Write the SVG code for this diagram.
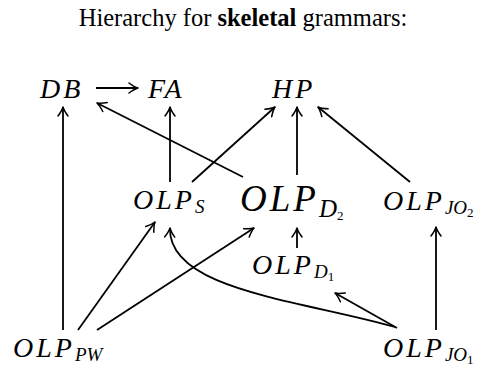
<svg xmlns="http://www.w3.org/2000/svg" width="486" height="368" viewBox="0 0 486 368">
<defs>
<style>
text{font-family:'Liberation Serif','Times New Roman',serif;fill:#000}
.m{font-style:italic;font-size:28px;letter-spacing:3px}
.big{font-size:37px;letter-spacing:3px}
.sub{font-size:19px;letter-spacing:0}
.subb{font-size:25px;letter-spacing:0}
.n{font-style:normal;font-size:13px}
.e{fill:none;stroke:#000;stroke-width:1.8}
</style>
<marker id="ah" viewBox="-11 -6 13 12" refX="0" refY="0" markerWidth="13" markerHeight="12" markerUnits="userSpaceOnUse" orient="auto">
<path d="M-9,-5 Q-3.5,-0.9 0,0 Q-3.5,0.9 -9,5" fill="none" stroke="#000" stroke-width="1.5" stroke-linecap="round" stroke-linejoin="round"/>
</marker>
</defs>
<rect width="486" height="368" fill="#fff"/>
<text font-family="Liberation Serif, serif" x="243" y="26" font-size="24.5" text-anchor="middle">Hierarchy for <tspan font-weight="bold">skeletal</tspan> grammars:</text>
<g id="connectors">
<line class="e" x1="96" y1="88" x2="138" y2="88" marker-end="url(#ah)"/>
<line class="e" x1="63" y1="330" x2="63" y2="107" marker-end="url(#ah)"/>
<line class="e" x1="170" y1="182" x2="170" y2="107" marker-end="url(#ah)"/>
<line class="e" x1="243" y1="177" x2="97" y2="103" marker-end="url(#ah)"/>
<line class="e" x1="192" y1="182" x2="275" y2="107" marker-end="url(#ah)"/>
<line class="e" x1="297" y1="175" x2="297" y2="107" marker-end="url(#ah)"/>
<line class="e" x1="410" y1="182" x2="318" y2="107" marker-end="url(#ah)"/>
<line class="e" x1="297" y1="248" x2="297" y2="228" marker-end="url(#ah)"/>
<line class="e" x1="436" y1="330" x2="436" y2="227" marker-end="url(#ah)"/>
<line class="e" x1="397" y1="328" x2="335" y2="293" marker-end="url(#ah)"/>
<line class="e" x1="78" y1="330" x2="155" y2="222" marker-end="url(#ah)"/>
<line class="e" x1="97" y1="330" x2="254" y2="228" marker-end="url(#ah)"/>
<path class="e" d="M395,327 C300,300 168,290 170,228" marker-end="url(#ah)"/>
</g>
<g id="DB"><text class="m" font-family="Liberation Serif, serif" x="40" y="98" letter-spacing="5">DB</text></g>
<g id="FA"><text class="m" font-family="Liberation Serif, serif" x="148" y="98" letter-spacing="5">FA</text></g>
<g id="HP"><text class="m" font-family="Liberation Serif, serif" x="272" y="98" letter-spacing="4">HP</text></g>
<g id="OLP_S"><text class="m" font-family="Liberation Serif, serif" x="133" y="209">OLP<tspan class="sub" dy="4">S</tspan></text></g>
<g id="OLP_D2"><text class="m big" font-family="Liberation Serif, serif" x="240" y="211">OLP<tspan class="subb" dy="6">D</tspan><tspan class="n" font-size="17" dy="3">2</tspan></text></g>
<g id="OLP_JO2"><text class="m" font-family="Liberation Serif, serif" x="383" y="210">OLP<tspan class="sub" dy="4">JO</tspan><tspan class="n" dy="3">2</tspan></text></g>
<g id="OLP_D1"><text class="m" font-family="Liberation Serif, serif" x="252" y="274">OLP<tspan class="sub" dy="4">D</tspan><tspan class="n" dy="3">1</tspan></text></g>
<g id="OLP_PW"><text class="m" font-family="Liberation Serif, serif" x="13" y="357">OLP<tspan class="sub" dy="4">PW</tspan></text></g>
<g id="OLP_JO1"><text class="m" font-family="Liberation Serif, serif" x="383" y="357">OLP<tspan class="sub" dy="4">JO</tspan><tspan class="n" dy="3">1</tspan></text></g>
</svg>
